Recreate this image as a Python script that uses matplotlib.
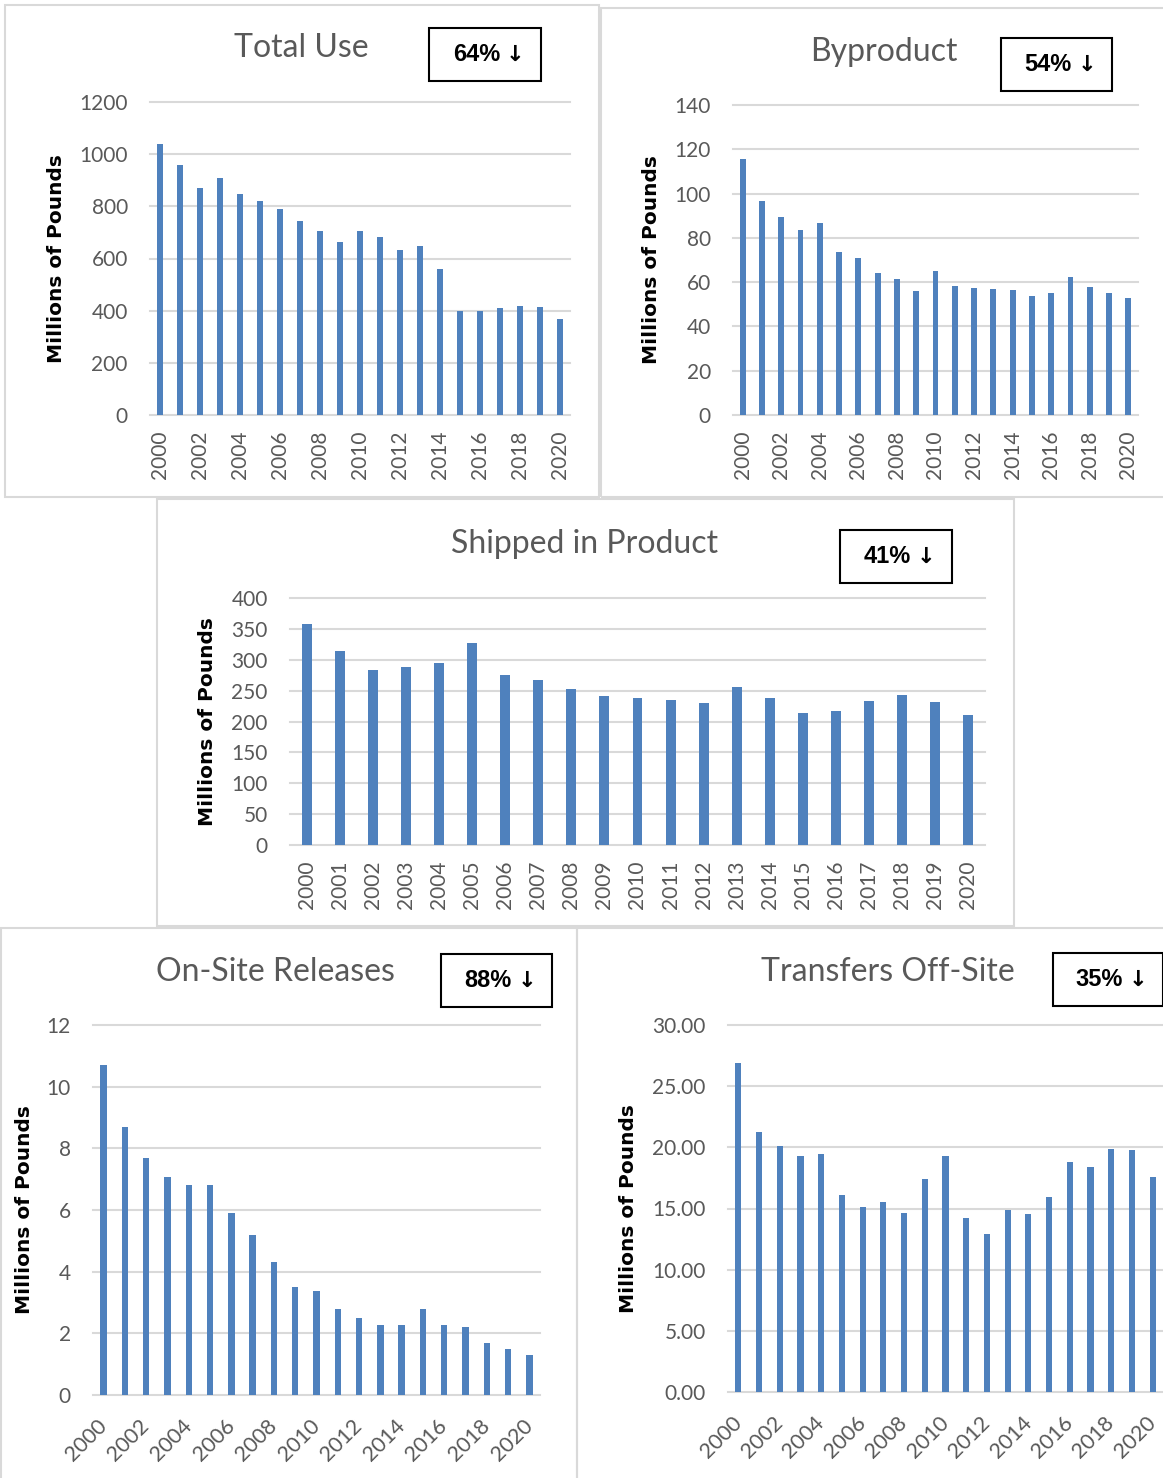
import matplotlib.pyplot as plt
from matplotlib.patches import Rectangle
from matplotlib.ticker import FormatStrFormatter

# data (millions of pounds), 2000-2020
years = list(range(2000, 2021))

total_use = [1039, 957, 871, 909, 849, 819, 788, 744, 704, 663, 704,
             682, 634, 648, 560, 399, 397, 412, 418, 413, 367]
byproduct = [115.4, 96.7, 89.2, 83.6, 86.6, 73.4, 70.8, 64.2, 61.6, 55.9, 64.9,
             58.2, 57.3, 56.8, 56.5, 53.8, 55.2, 62.1, 57.6, 55.2, 52.9]
shipped = [358.3, 314.5, 283.6, 288.5, 295.0, 327.0, 275.5, 266.8, 252.8, 240.9, 237.6,
           234.4, 230.0, 256.0, 238.2, 214.3, 216.5, 233.3, 243.0, 231.1, 210.0]
onsite = [10.69, 8.69, 7.70, 7.08, 6.80, 6.80, 5.89, 5.19, 4.30, 3.50, 3.38,
          2.79, 2.49, 2.28, 2.28, 2.79, 2.28, 2.19, 1.68, 1.49, 1.30]
transfers = [26.88, 21.25, 20.10, 19.29, 19.49, 16.08, 15.16, 15.56, 14.67, 17.38, 19.29,
             14.26, 12.88, 14.87, 14.58, 15.97, 18.77, 18.37, 19.90, 19.78, 17.59]

titles = ['Total Use', 'Byproduct', 'Shipped in Product', 'On-Site Releases', 'Transfers Off-Site']
changes = ['64%', '54%', '41%', '88%', '35%']

W, H = 1163, 1478
fig = plt.figure(figsize=(W / 100, H / 100), dpi=100)
fig.patch.set_facecolor('white')

BLUE = '#4f81bd'
GRID = '#d9d9d9'
TXT = '#595959'


def frac(l, t, r, b):
    return [l / W, 1 - b / H, (r - l) / W, (b - t) / H]


def frame(l, t, r, b, color=GRID, lw=1.5):
    x, y, w, h = frac(l, t, r, b)
    fig.add_artist(Rectangle((x, y), w, h, transform=fig.transFigure,
                             fill=False, ec=color, lw=lw))


def panel(values, box, ymax, ystep, every, rot, title, title_xy, change, chg_box, ylab_x, fmt=None):
    l, t, r, b = box
    ax = fig.add_axes(frac(l, t, r, b))
    x = list(range(len(values)))
    ax.bar(x, values, width=0.3, color=BLUE, zorder=3)
    ax.set_xlim(-0.5, len(values) - 0.5)
    ax.set_ylim(0, ymax)
    ax.set_yticks([v * ystep for v in range(int(round(ymax / ystep)) + 1)])
    if fmt:
        ax.yaxis.set_major_formatter(FormatStrFormatter(fmt))
    ax.set_xticks(x[::every])
    if rot == 90:
        ax.set_xticklabels([str(y) for y in years[::every]], rotation=90,
                           fontsize=15, color=TXT, family='Lato')
        ax.tick_params(axis='x', length=0, pad=11)
    else:
        ax.set_xticklabels([str(y) for y in years[::every]], rotation=45, ha='right',
                           va='center', rotation_mode='anchor',
                           fontsize=15.5, color=TXT, family='Lato')
        ax.tick_params(axis='x', length=0, pad=20)
    ax.tick_params(axis='y', length=0, pad=16, labelsize=15, labelcolor=TXT)
    for lab in ax.get_yticklabels():
        lab.set_family('Lato')
    for s in ax.spines.values():
        s.set_visible(False)
    ax.yaxis.grid(True, color=GRID, lw=1.5, zorder=0)
    for gl in ax.get_ygridlines():
        gl.set_clip_on(False)
    ax.set_axisbelow(True)
    ax.set_ylabel('Millions of Pounds', fontsize=14.5, fontweight='bold',
                  family='DejaVu Sans', color='black')
    ax.yaxis.set_label_coords((ylab_x - l) / (r - l), 0.5)

    fig.text(title_xy[0] / W, 1 - title_xy[1] / H, title, ha='center', va='center',
             fontsize=23, color=TXT, family='Lato')
    frame(*chg_box, color='black', lw=1.5)
    cx = (chg_box[0] + chg_box[2]) / 2
    cy = (chg_box[1] + chg_box[3]) / 2
    fig.text((cx + 15) / W, 1 - cy / H, change, ha='right', va='center', fontsize=17,
             fontweight='bold', family='Liberation Sans')
    fig.text((cx + 21) / W, 1 - cy / H, '↓', ha='left', va='center', fontsize=16,
             fontweight='bold', family='DejaVu Sans')
    return ax


# panel frames
frame(5, 5, 599, 497)
frame(601, 8, 1175, 497)
frame(157, 499, 1014, 926)
frame(1, 928, 577, 1490)
frame(577, 928, 1175, 1490)

panel(total_use, (150, 102, 570, 415), 1200, 200, 2, 90, titles[0], (301, 48),
      changes[0], (429, 28, 541, 81), 66)
panel(byproduct, (733, 105, 1138, 415), 140, 20, 2, 90, titles[1], (884, 52),
      changes[1], (1001, 38, 1112, 91), 661)
panel(shipped, (290, 598, 985, 845), 400, 50, 1, 90, titles[2], (585, 544),
      changes[2], (840, 530, 952, 583), 217)
panel(onsite, (93, 1025, 540, 1395), 12, 2, 2, 45, titles[3], (275, 972),
      changes[3], (441, 954, 552, 1007), 34)
panel(transfers, (728, 1025, 1163, 1392), 30, 5, 2, 45, titles[4], (888, 972),
      changes[4], (1053, 953, 1163, 1006), 638, fmt='%.2f')

plt.savefig('out.png', dpi=100)
